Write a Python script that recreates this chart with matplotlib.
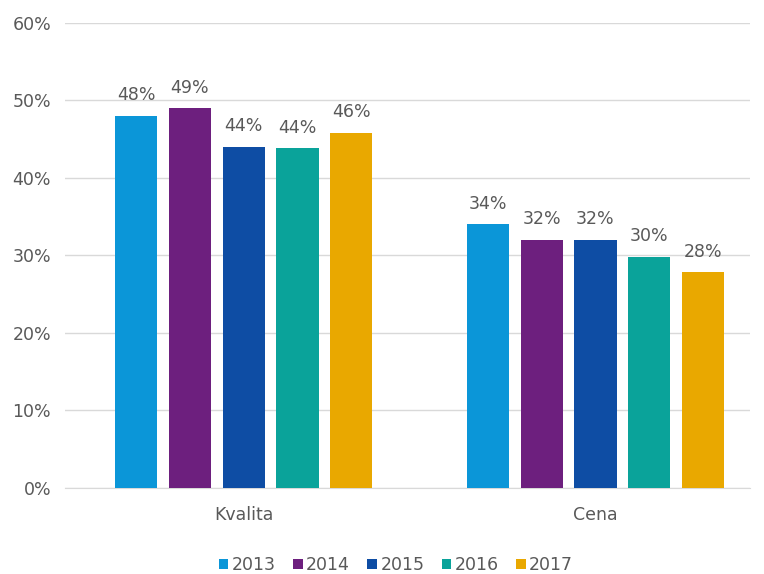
import numpy as np
import matplotlib
matplotlib.use("Agg")
from matplotlib import pyplot as plt
from matplotlib.ticker import PercentFormatter

categories = ["Kvalita", "Cena"]
years = ["2013", "2014", "2015", "2016", "2017"]
values = {
    "2013": [48.0, 34.0],
    "2014": [49.0, 32.0],
    "2015": [44.0, 32.0],
    "2016": [43.8, 29.8],
    "2017": [45.8, 27.8],
}
labels = {
    "2013": ["48%", "34%"],
    "2014": ["49%", "32%"],
    "2015": ["44%", "32%"],
    "2016": ["44%", "30%"],
    "2017": ["46%", "28%"],
}
colors = ["#0b96d8", "#6d1f7e", "#0e4da4", "#0aa39a", "#e9a800"]

text_color = "#595959"
plt.rcParams["font.family"] = ["DejaVu Sans"]
fs = 12.5

fig = plt.figure(figsize=(7.64, 5.74), dpi=100)
ax = fig.add_axes([0.085, 0.15, 0.897, 0.81])

x = np.arange(len(categories))
step = 0.153
width = 0.12
for i, year in enumerate(years):
    pos = x + (i - 2) * step
    ax.bar(pos, values[year], width, color=colors[i], label=year, zorder=3)
    for px, v, lab in zip(pos, values[year], labels[year]):
        ax.text(px, v + 1.5, lab, ha="center", va="bottom",
                fontsize=fs, color=text_color)

ax.set_ylim(0, 60)
ax.set_xlim(-0.508, 1.44)
ax.set_yticks(np.arange(0, 61, 10))
ax.yaxis.set_major_formatter(PercentFormatter(decimals=0))
ax.set_xticks(x)
ax.set_xticklabels(categories)
ax.tick_params(axis="both", length=0, labelsize=fs, labelcolor=text_color)
ax.tick_params(axis="y", pad=10)
ax.tick_params(axis="x", pad=13)
ax.grid(axis="y", color="#d9d9d9", linewidth=1, zorder=0)
for s in ["top", "right", "left"]:
    ax.spines[s].set_visible(False)
ax.spines["bottom"].set_color("#d9d9d9")

ax.legend(loc="center", bbox_to_anchor=(0.483, -0.166), ncol=5, frameon=False,
          handlelength=0.55, handleheight=0.55, handletextpad=0.2, columnspacing=1.0,
          fontsize=fs, labelcolor=text_color)

fig.savefig("out.png", dpi=100)
